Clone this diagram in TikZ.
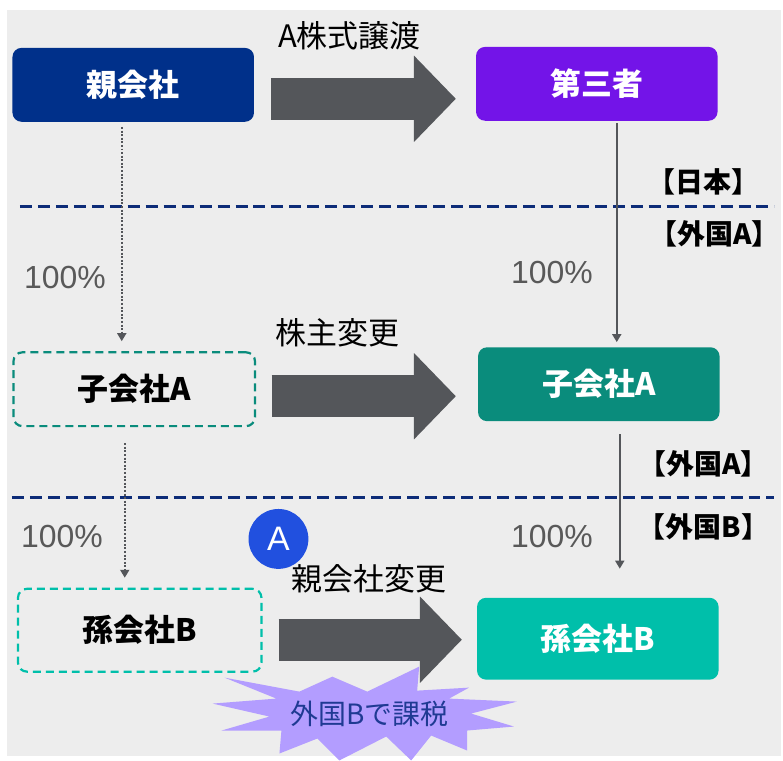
\documentclass[tikz,border=0pt]{standalone}
\usepackage{fontspec}
\setmainfont{Noto Sans CJK JP}
\newfontfamily\latin{Liberation Sans}
\usetikzlibrary{positioning,arrows.meta}

\definecolor{paper}{HTML}{EDEDED}
\definecolor{navy}{HTML}{00308A}
\definecolor{violet}{HTML}{7314E8}
\definecolor{tealdark}{HTML}{0A8C7C}
\definecolor{teallight}{HTML}{00BFAA}
\definecolor{arrgray}{HTML}{54565A}
\definecolor{pctgray}{HTML}{595959}
\definecolor{bordernavy}{HTML}{0D2C78}
\definecolor{markblue}{HTML}{2150DF}
\definecolor{burstfill}{HTML}{B39DFF}
\definecolor{bursttext}{HTML}{1F3A93}

\begin{document}
\begin{tikzpicture}[x=1pt, y=-1pt,
  box/.style = {rounded corners=9pt, minimum width=242pt, minimum height=74pt,
    font=\fontsize{31}{36}\selectfont\bfseries, text=white, inner sep=0pt},
  ghost/.style = {box, draw, line width=2.2pt, dash pattern=on 8pt off 5pt,
    text=black},
  big/.style = {draw=arrgray, line width=42pt,
    -{Triangle[length=42pt,width=84pt]}},
  link/.style = {draw=arrgray, line width=1.8pt,
    -{Triangle[length=8pt,width=9pt]}},
  dots/.style = {dash pattern=on 2pt off 1.6pt},
  pct/.style = {font=\latin\fontsize{32}{36}\selectfont, text=pctgray},
  land/.style = {font=\fontsize{28}{32}\selectfont\bfseries},
  lbl/.style = {font=\fontsize{31}{36}\selectfont},
  border/.style = {draw=bordernavy, line width=3pt, dash pattern=on 12pt off 6pt}
  ]
  % background
  \fill[white] (0,0) rectangle (783,758);
  \fill[paper] (7,10) rectangle (783,758);

  % companies
  \node[box, fill=navy] (parent) at (133.5,85) {親会社};
  \node[box, fill=violet] (third) at (598,84) {第三者};
  \node[ghost, draw=tealdark, minimum height=74pt] (subAd) at (134.5,390) {子会社A};
  \node[box, fill=tealdark] (subAf) at (600,385) {子会社A};
  \node[ghost, draw=teallight, minimum width=244pt, minimum height=83pt]
    (grandBd) at (140,631.5) {孫会社B};
  \node[box, fill=teallight, minimum height=82pt] (grandBf) at (599,640) {孫会社B};

  % borders
  \draw[border] (20,207) -- (776,207);
  \draw[border] (12,498) -- (776,498);

  % transfers
  \draw[big, shorten <=17pt, shorten >=20pt]
    ([yshift=-14pt]parent.east) -- ([yshift=-14pt]parent.east -| third.west);
  \draw[big, shorten <=15.5pt, shorten >=22pt]
    ([yshift=-7pt]subAd.east) -- ([yshift=-7pt]subAd.east -| subAf.west);
  \draw[big, shorten <=16pt, shorten >=15pt]
    ([yshift=-9.5pt]grandBd.east) -- ([yshift=-9.5pt]grandBd.east -| grandBf.west);

  \node[lbl] (sale) at (350,36) {A株式譲渡};
  \node[lbl] (owner) at (338,333) {株主変更};
  \node[lbl] (newparent) at (370,580) {親会社変更};

  % ownership
  \draw[link, dots, shorten <=5pt, shorten >=10pt]
    ([xshift=-11.5pt]parent.south) -- ([xshift=-11.5pt]parent.south |- subAd.north);
  \draw[link, dots, shorten <=16pt, shorten >=10pt]
    ([xshift=-9.5pt]subAd.south) -- ([xshift=-9.5pt]subAd.south |- grandBd.north);
  \draw[link, shorten <=2pt, shorten >=5pt]
    ([xshift=20pt]third.south) -- ([xshift=20pt]third.south |- subAf.north);
  \draw[link, shorten <=13pt, shorten >=29pt]
    ([xshift=21pt]subAf.south) -- ([xshift=21pt]subAf.south |- grandBf.north);

  \node[pct] (p1) at (65,278) {100\%};
  \node[pct] (p2) at (553,273) {100\%};
  \node[pct] (p3) at (62,538) {100\%};
  \node[pct] (p4) at (553,538) {100\%};

  % countries
  \node[land] (jp) at (705,182) {【日本】};
  \node[land] (fa1) at (716,234) {【外国A】};
  \node[land] (fa2) at (705,465) {【外国A】};
  \node[land] (fb) at (705,528) {【外国B】};

  % tax
  \node[circle, fill=markblue, minimum size=60pt, inner sep=0pt, text=white,
    font=\latin\fontsize{34}{36}\selectfont] (mark) at (279,540) {A};
  \fill[burstfill] (225,679) -- (300,693) -- (333,678) -- (368,693)
    -- (420,668) -- (418,692) -- (470,689) -- (450,700) -- (518,703)
    -- (472,715) -- (515,728) -- (468,732) -- (468,752) -- (432,737)
    -- (412,762) -- (387,738) -- (340,762) -- (318,740) -- (280,755)
    -- (282,732) -- (222,732) -- (270,718) -- (213,705) -- (277,700) -- cycle;
  \node[font=\fontsize{28}{32}\selectfont, text=bursttext] (tax) at (370,715)
    {外国Bで課税};
\end{tikzpicture}
\end{document}
